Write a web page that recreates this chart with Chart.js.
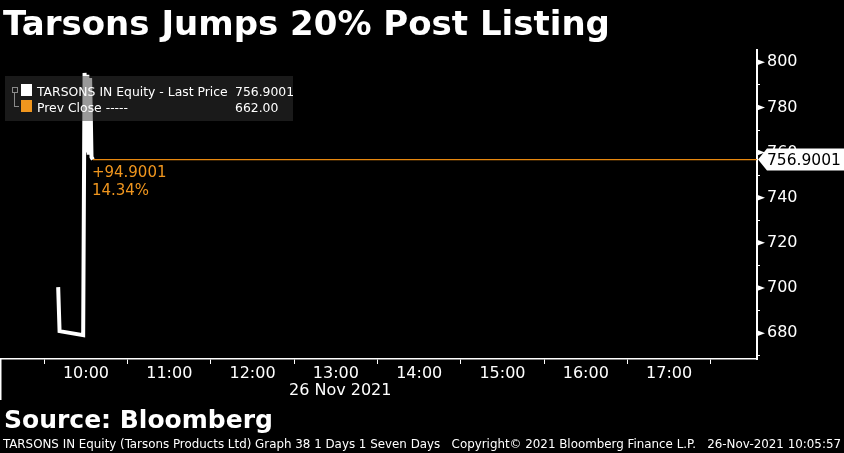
<!DOCTYPE html>
<html>
<head>
<meta charset="utf-8">
<script src="https://cdn.jsdelivr.net/npm/chart.js@4/dist/chart.umd.min.js"></script>
<style>
  html, body { margin: 0; padding: 0; background: #000; }
  body { width: 844px; height: 453px; position: relative; overflow: hidden; font-family: "DejaVu Sans", sans-serif; color: #fff; }
  canvas { position: absolute; left: 0; top: 0; }
  .txt { position: absolute; white-space: pre; line-height: 1; }
  #title { left: 3px; top: 6px; font-size: 34px; font-weight: bold; }
  #source { left: 4px; top: 407px; font-size: 25px; font-weight: bold; }
  #footer { left: 3px; top: 439px; font-size: 11.5px; font-family: "DejaVu Sans Condensed", "DejaVu Sans", sans-serif; transform-origin: 0 0; }
  #dateLabel { left: 289px; top: 382px; font-size: 16px; }
  #legend { position: absolute; left: 5px; top: 76px; width: 288px; height: 45px; background: rgba(51,51,51,0.5); }
  .sw { position: absolute; width: 11px; height: 12px; }
  .lg { position: absolute; font-size: 12.4px; line-height: 1; white-space: pre; color: #fff; }
</style>
</head>
<body>
<canvas id="chart" width="844" height="453"></canvas>

<div class="txt" id="title">Tarsons Jumps 20% Post Listing</div>
<div class="txt" id="dateLabel">26 Nov 2021</div>
<div class="txt" id="source">Source: Bloomberg</div>
<div class="txt" id="footer">TARSONS IN Equity (Tarsons Products Ltd) Graph 38 1 Days 1 Seven Days   Copyright© 2021 Bloomberg Finance L.P.   26-Nov-2021 10:05:57</div>

<div id="legend"></div>

<script>
// time in minutes after midnight, 26 Nov 2021
const priceTimes  = [580, 581, 598, 599, 600, 601, 602, 603, 604, 605];
const priceValues = [700.4, 680.9, 679.1, 795.3, 760, 794.5, 759, 793, 758, 756.9001];

const prevClose = 662.00;
const lastPrice = 756.9001;

const legendNames  = ['TARSONS IN Equity - Last Price', 'Prev Close -----'];
const legendValues = ['756.9001', '662.00'];
const legendColors = ['#ffffff', '#f0961e'];

const hourTicks  = [600, 660, 720, 780, 840, 900, 960, 1020];
const hourLabels = ['10:00', '11:00', '12:00', '13:00', '14:00', '15:00', '16:00', '17:00'];
const halfTicks  = [570, 630, 690, 750, 810, 870, 930, 990, 1050];

const yTicks = [670, 680, 690, 700, 710, 720, 730, 740, 750, 760, 770, 780, 790, 800];

const xMin = 538.1, xMax = 1083.3;
const yMin = 668.54, yMax = 805.45;

const orange = '#f0961e';

// legend
const lg = document.getElementById('legend');
legendNames.forEach((name, i) => {
  const top = 8 + i * 16;
  lg.insertAdjacentHTML('beforeend',
    `<div class="sw" style="left:16px;top:${top}px;background:${legendColors[i]}"></div>` +
    `<div class="lg" style="left:32px;top:${top + 1.5}px">${name}</div>` +
    `<div class="lg" style="left:230px;top:${top + 1.5}px">${legendValues[i]}</div>`);
});
lg.insertAdjacentHTML('beforeend',
  '<div style="position:absolute;left:7px;top:11px;width:4px;height:4px;border:1px solid #8a8a8a"></div>' +
  '<div style="position:absolute;left:9px;top:17px;width:1px;height:13px;background:#8a8a8a"></div>' +
  '<div style="position:absolute;left:9px;top:30px;width:5px;height:1px;background:#8a8a8a"></div>');

const overlay = {
  id: 'overlay',
  afterDraw(chart) {
    const ctx = chart.ctx, x = chart.scales.x, y = chart.scales.y, ca = chart.chartArea;
    ctx.save();
    // left border under the axis
    ctx.strokeStyle = '#fff';
    ctx.lineWidth = 1.5;
    ctx.beginPath();
    ctx.moveTo(0.75, ca.bottom);
    ctx.lineTo(0.75, ca.bottom + 41);
    ctx.stroke();

    // triangle markers at labelled ticks
    ctx.fillStyle = '#fff';
    yTicks.filter(v => v % 20 === 0).forEach(v => {
      const py = y.getPixelForValue(v);
      ctx.beginPath();
      ctx.moveTo(ca.right, py - 3);
      ctx.lineTo(ca.right + 8, py);
      ctx.lineTo(ca.right, py + 3);
      ctx.closePath();
      ctx.fill();
    });

    // last price tag
    const ly = y.getPixelForValue(lastPrice);
    ctx.fillStyle = '#fff';
    ctx.beginPath();
    ctx.moveTo(ca.right + 1, ly);
    ctx.lineTo(ca.right + 10, ly - 11);
    ctx.lineTo(844, ly - 11);
    ctx.lineTo(844, ly + 11);
    ctx.lineTo(ca.right + 10, ly + 11);
    ctx.closePath();
    ctx.fill();
    ctx.fillStyle = '#000';
    ctx.font = '15.5px "DejaVu Sans"';
    ctx.textBaseline = 'middle';
    ctx.fillText(lastPrice.toFixed(4), ca.right + 10, ly + 1);

    // change annotation
    const lx = x.getPixelForValue(priceTimes[priceTimes.length - 1]);
    const diff = lastPrice - prevClose;
    ctx.fillStyle = orange;
    ctx.font = '15px "DejaVu Sans"';
    ctx.textBaseline = 'alphabetic';
    ctx.fillText('+' + diff.toFixed(4), lx - 1, ly + 17);
    ctx.fillText((diff / prevClose * 100).toFixed(2) + '%', lx - 1, ly + 35);
    ctx.restore();
  }
};

new Chart(document.getElementById('chart'), {
  type: 'line',
  data: {
    datasets: [
      {
        data: [priceTimes[priceTimes.length - 1], xMax].map(t => ({x: t, y: lastPrice})),
        borderColor: '#e8880f',
        backgroundColor: '#e8880f',
        borderWidth: 1.2,
        pointRadius: 0
      },
      {
        data: priceTimes.map((t, i) => ({x: t, y: priceValues[i]})),
        borderColor: '#fff',
        borderWidth: 4,
        pointRadius: 0,
        tension: 0
      }
    ]
  },
  options: {
    responsive: false,
    devicePixelRatio: 1,
    animation: false,
    layout: { padding: { top: 50, left: 0, right: 0, bottom: 0 } },
    plugins: { legend: { display: false }, tooltip: { enabled: false } },
    scales: {
      x: {
        type: 'linear',
        min: xMin,
        max: xMax,
        afterFit: s => { s.height = 94; },
        afterBuildTicks: s => { s.ticks = [...halfTicks, ...hourTicks].sort((a, b) => a - b).map(v => ({value: v})); },
        border: { color: '#fff', width: 1.5 },
        grid: {
          drawOnChartArea: false,
          tickLength: 5,
          tickColor: c => (c.tick && halfTicks.includes(c.tick.value)) ? '#fff' : 'rgba(0,0,0,0)'
        },
        ticks: {
          autoSkip: false,
          maxRotation: 0,
          padding: 0,
          color: '#fff',
          font: { family: 'DejaVu Sans', size: 16 },
          callback: v => { const i = hourTicks.indexOf(v); return i >= 0 ? hourLabels[i] : ''; }
        }
      },
      y: {
        position: 'right',
        min: yMin,
        max: yMax,
        afterFit: s => { s.width = 87; },
        afterBuildTicks: s => { s.ticks = yTicks.map(v => ({value: v})); },
        border: { color: '#fff', width: 2 },
        grid: {
          drawOnChartArea: false,
          tickLength: 3,
          tickColor: c => (c.tick && c.tick.value % 20 !== 0) ? '#fff' : 'rgba(0,0,0,0)'
        },
        ticks: {
          autoSkip: false,
          padding: 7,
          color: '#fff',
          font: { family: 'DejaVu Sans', size: 16 },
          callback: v => v % 20 === 0 ? String(v) : ''
        }
      }
    }
  },
  plugins: [overlay]
});

// stretch the footer line to the width it has in the source
const f = document.getElementById('footer');
f.style.transform = 'scaleX(' + (838 / f.getBoundingClientRect().width) + ')';
</script>
</body>
</html>
